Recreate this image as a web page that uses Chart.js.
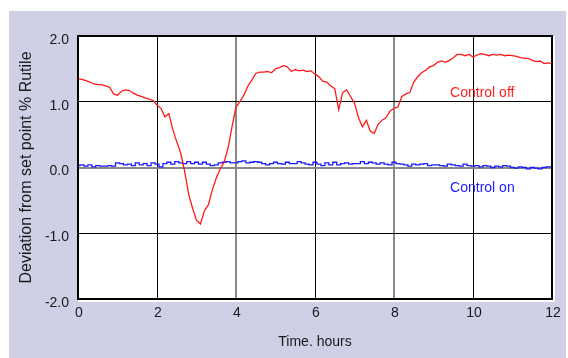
<!DOCTYPE html>
<html>
<head>
<meta charset="utf-8">
<script src="https://cdn.jsdelivr.net/npm/chart.js@4.4.1/dist/chart.umd.min.js"></script>
<style>
  html, body { margin: 0; padding: 0; background: #fff; }
  #wrap { position: relative; width: 568px; height: 358px; }
  #panel { position: absolute; left: 9px; top: 11px; width: 557px; height: 347px; background: #cfcfe5; }
  #grafico { position: absolute; left: 0; top: 0; }
</style>
</head>
<body>
<div id="wrap">
  <div id="panel"></div>
  <canvas id="grafico" width="568" height="358"></canvas>
</div>
<script>
/* ===================== DATOS ===================== */

const hours = [
  0, 0.1, 0.2, 0.3, 0.4, 0.5, 0.6, 0.7, 0.8, 0.9,
  1, 1.1, 1.2, 1.3, 1.4, 1.5, 1.6, 1.7, 1.8, 1.9,
  2, 2.1, 2.2, 2.3, 2.4, 2.5, 2.6, 2.7, 2.8, 2.9,
  3, 3.1, 3.2, 3.3, 3.4, 3.5, 3.6, 3.7, 3.8, 3.9,
  4, 4.1, 4.2, 4.3, 4.4, 4.5, 4.6, 4.7, 4.8, 4.9,
  5, 5.1, 5.2, 5.3, 5.4, 5.5, 5.6, 5.7, 5.8, 5.9,
  6, 6.1, 6.2, 6.3, 6.4, 6.5, 6.6, 6.7, 6.8, 6.9,
  7, 7.1, 7.2, 7.3, 7.4, 7.5, 7.6, 7.7, 7.8, 7.9,
  8, 8.1, 8.2, 8.3, 8.4, 8.5, 8.6, 8.7, 8.8, 8.9,
  9, 9.1, 9.2, 9.3, 9.4, 9.5, 9.6, 9.7, 9.8, 9.9,
  10, 10.1, 10.2, 10.3, 10.4, 10.5, 10.6, 10.7, 10.8, 10.9,
  11, 11.1, 11.2, 11.3, 11.4, 11.5, 11.6, 11.7, 11.8, 11.9,
  12
];

const controlOff = [
  1.35, 1.34, 1.32, 1.30, 1.27, 1.26, 1.26, 1.24, 1.22, 1.12,
  1.10, 1.16, 1.18, 1.17, 1.13, 1.10, 1.08, 1.06, 1.04, 1.02,
  0.95, 0.90, 0.77, 0.82, 0.58, 0.39, 0.22, -0.06, -0.40, -0.62,
  -0.80, -0.86, -0.66, -0.57, -0.34, -0.16, -0.02, 0.08, 0.30, 0.62,
  0.92, 1.00, 1.10, 1.24, 1.33, 1.43, 1.45, 1.45, 1.46, 1.44,
  1.50, 1.52, 1.55, 1.53, 1.46, 1.49, 1.47, 1.48, 1.46, 1.47,
  1.42, 1.38, 1.31, 1.30, 1.24, 1.20, 0.88, 1.14, 1.18, 1.08,
  0.98, 0.76, 0.62, 0.72, 0.55, 0.52, 0.66, 0.72, 0.76, 0.86,
  0.90, 0.92, 1.08, 1.12, 1.14, 1.30, 1.38, 1.44, 1.48, 1.53,
  1.55, 1.60, 1.62, 1.60, 1.63, 1.67, 1.72, 1.72, 1.70, 1.72,
  1.68, 1.71, 1.73, 1.72, 1.70, 1.72, 1.71, 1.72, 1.70, 1.71,
  1.70, 1.69, 1.67, 1.66, 1.66, 1.63, 1.61, 1.62, 1.58, 1.59,
  1.58
];

const controlOn = [
  0.03, 0.04, 0.02, 0.04, 0.01, 0.03, 0.02, 0.02, 0.03, 0.02,
  0.07, 0.06, 0.04, 0.05, 0.03, 0.07, 0.04, 0.06, 0.03, 0.07,
  0.05, 0.01, 0.06, 0.08, 0.05, 0.09, 0.07, 0.06, 0.09, 0.06,
  0.08, 0.05, 0.08, 0.05, 0.03, 0.04, 0.07, 0.08, 0.09, 0.07,
  0.07, 0.09, 0.10, 0.07, 0.08, 0.09, 0.08, 0.06, 0.04, 0.06,
  0.08, 0.06, 0.05, 0.08, 0.06, 0.06, 0.09, 0.07, 0.05, 0.04,
  0.08, 0.05, 0.03, 0.07, 0.04, 0.08, 0.04, 0.06, 0.07, 0.05,
  0.06, 0.06, 0.09, 0.06, 0.08, 0.07, 0.05, 0.07, 0.05, 0.04,
  0.08, 0.06, 0.05, 0.04, 0.02, 0.05, 0.04, 0.05, 0.06, 0.03,
  0.04, 0.04, 0.03, 0.02, 0.05, 0.04, 0.03, 0.02, 0.05, 0.03,
  0.02, 0.03, 0.01, 0.03, 0.02, 0.00, 0.02, 0.01, 0.03, 0.02,
  0.00, -0.01, 0.01, 0.00, -0.02, 0.00, -0.01, -0.02, 0.00, 0.01,
  0.01
];

const xTicks = [0, 2, 4, 6, 8, 10, 12];
const yTicks = [-2, -1, 0, 1, 2];

/* ===================== ESTILO ===================== */

const FONT = { family: "'Liberation Sans', Arial, sans-serif", size: 14 };
const FONT_Y = { family: "'Liberation Sans', Arial, sans-serif", size: 16 };
const TEXTO = "#1a1a1a";
const GRIS_X = [4, 8];   // lineas de rejilla grises
const GRIS_Y = [0];

const notas = [
  { text: "Control off", x: 9.42, y: 1.13, color: "#ff2020" },
  { text: "Control on", x: 9.42, y: -0.31, color: "#2020ff" }
];

/* ===================== PLUGINS ===================== */

const marco = {
  id: "marco",
  beforeDraw(chart) {
    const { ctx, chartArea: a } = chart;
    ctx.save();
    ctx.fillStyle = "#fff";
    ctx.fillRect(a.left, a.top, a.right - a.left + 3, a.bottom - a.top + 3);
    ctx.restore();
  },
  afterDraw(chart) {
    const { ctx, chartArea: a, scales } = chart;
    ctx.save();
    ctx.strokeStyle = "#000";
    ctx.lineWidth = 2;
    ctx.strokeRect(a.left, a.top, a.right - a.left, a.bottom - a.top);

    ctx.font = `${FONT.size}px ${FONT.family}`;
    ctx.textAlign = "left";
    ctx.textBaseline = "middle";
    notas.forEach(n => {
      ctx.fillStyle = n.color;
      ctx.fillText(n.text, scales.x.getPixelForValue(n.x), scales.y.getPixelForValue(n.y));
    });
    ctx.restore();
  }
};

/* ===================== GRAFICO ===================== */

const puntos = vals => hours.map((h, i) => ({ x: h, y: vals[i] }));

new Chart(document.getElementById("grafico"), {
  type: "line",
  data: {
    datasets: [
      { label: "Control off", data: puntos(controlOff), borderColor: "#ff1a1a",
        borderWidth: 1.3, pointRadius: 0, tension: 0, fill: false },
      { label: "Control on", data: puntos(controlOn), borderColor: "#1a1aff",
        borderWidth: 1.3, pointRadius: 0, tension: 0, fill: false, stepped: "middle" }
    ]
  },
  options: {
    responsive: false,
    animation: false,
    devicePixelRatio: 1,
    layout: { padding: { top: 36, right: 16, bottom: 0, left: 0 } },
    plugins: { legend: { display: false }, tooltip: { enabled: false } },
    scales: {
      x: {
        type: "linear",
        min: 0, max: 12,
        afterBuildTicks: s => { s.ticks = xTicks.map(v => ({ value: v })); },
        afterFit: s => { s.height = 59; },
        border: { display: false },
        grid: {
          drawTicks: false,
          color: c => GRIS_X.includes(c.tick && c.tick.value) ? "#8a8a8a" : "#000",
          lineWidth: c => GRIS_X.includes(c.tick && c.tick.value) ? 2 : 1
        },
        ticks: { color: TEXTO, font: FONT, padding: 6, maxRotation: 0, labelOffset: 1,
          callback: v => String(v) },
        title: { display: true, text: "Time. hours", color: TEXTO, font: FONT,
          padding: { top: 0, bottom: 7 } }
      },
      y: {
        min: -2, max: 2,
        afterBuildTicks: s => { s.ticks = yTicks.map(v => ({ value: v })); },
        afterFit: s => { s.width = 78; },
        border: { display: false },
        grid: {
          drawTicks: false,
          color: c => GRIS_Y.includes(c.tick && c.tick.value) ? "#8a8a8a" : "#000",
          lineWidth: c => GRIS_Y.includes(c.tick && c.tick.value) ? 2 : 1
        },
        ticks: { color: TEXTO, font: FONT, padding: 9, labelOffset: 4,
          callback: v => v.toFixed(1) },
        title: { display: true, text: "Deviation from set point % Rutile", color: TEXTO,
          font: FONT_Y, padding: { top: 17, bottom: 0 } }
      }
    }
  },
  plugins: [marco]
});
</script>
</body>
</html>
